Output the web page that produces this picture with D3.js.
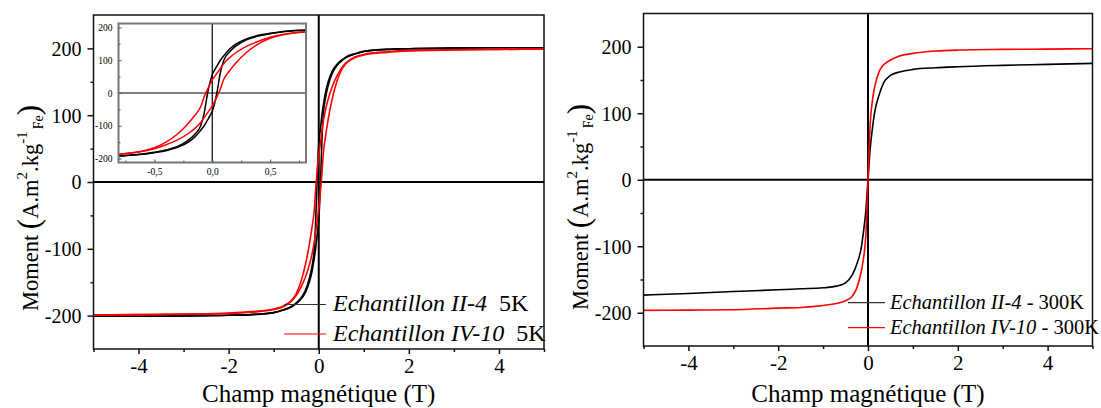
<!DOCTYPE html>
<html><head><meta charset="utf-8">
<script src="https://cdn.jsdelivr.net/npm/d3@7"></script>
<style>
html,body{margin:0;padding:0;background:#fff;}
svg text{font-family:"Liberation Serif","Times New Roman",serif;fill:#000;}
</style></head>
<body><svg id="c" width="1101" height="408"></svg>
<script>
// ---------- DATA ----------
// 5 K hysteresis loops (field in T, moment in A.m2/kg Fe)
const field5K = [-5,-4,-3,-2,-1.5,-1,-0.8,-0.6,-0.5,-0.4,-0.3,-0.2,-0.15,-0.1,-0.07,-0.04,-0.02,0,0.02,0.04,0.07,0.1,0.15,0.2,0.3,0.4,0.5,0.6,0.8,1,1.5,2,3,4,5];
const blackDesc5K = [-201,-201,-200.5,-199.5,-198.5,-195.5,-191.5,-186,-181,-174,-163,-142,-126,-100,-62,0,32,56,70,82,100,114,134,148,166,176,182,187,192,195.5,198.5,199.5,200.5,201,201];
const blackAsc5K  = [-201,-201,-200.5,-199.5,-198.5,-195.5,-192,-187,-182,-176,-166,-148,-134,-114,-100,-82,-70,-56,-32,0,62,100,126,142,163,174,181,186,191.5,195.5,198.5,199.5,200.5,201,201];
const redDesc5K   = [-199,-198.5,-197.5,-196,-194,-190,-186,-177,-167,-150,-125,-90,-68,-42,-12,12,26,40,50,60,75,90,108,122,143,158,170,178,187,191,195,197,198,198.5,199];
const redAsc5K    = [-199,-198.5,-198,-197,-195,-191,-187,-178,-170,-158,-143,-122,-108,-90,-75,-60,-50,-40,-26,-12,12,42,68,90,125,150,167,177,186,190,194,196,197.5,198.5,199];
// 300 K curves
const field300K = [-5,-4,-3,-2,-1.5,-1,-0.7,-0.5,-0.35,-0.25,-0.15,-0.1,-0.05,0,0.05,0.1,0.15,0.25,0.35,0.5,0.7,1,1.5,2,3,4,5];
const black300K = [-173.5,-171,-168,-165.5,-164,-162.5,-160,-155,-143,-127,-102,-78,-48,0,48,78,102,128,146,157,162,166,168.5,170,172,173.5,175];
const red300K   = [-196.5,-196,-195.5,-193,-192,-189,-186,-182,-175,-163,-138,-118,-85,0,85,120,140,163,173,180,186,190,193.5,195,196,196.5,197];
// ticks & labels
const yMajor = [-200,-100,0,100,200];
const yMinor = [-150,-50,50,150];
const xMajor = [-4,-2,0,2,4];
const xMinor = [-5,-3,-1,1,3,5];
const insetXMajor = [-0.5,0,0.5];
const insetXMinor = [-0.75,-0.25,0.25,0.75];
const insetYMajor = [-200,-100,0,100,200];
const insetYMinor = [-150,-50,50,150];
const legend5K = [{name:"Echantillon II-4", suffix:"5K", color:"#000"},{name:"Echantillon IV-10", suffix:"5K", color:"#e00"}];
const legend300K = [{name:"Echantillon II-4", suffix:" - 300K", color:"#000"},{name:"Echantillon IV-10", suffix:" - 300K", color:"#e00"}];
const xTitle = "Champ magnétique (T)";

// ---------- DRAW ----------
const svg = d3.select("#c");
const RED = "#f00";
function toPts(xs, ys){ return xs.map((x,i)=>[x, ys[i]]); }

function panel(opt){
  const x = d3.scaleLinear().domain([-5,5]).range([opt.x0, opt.x1]);
  const y = d3.scaleLinear().domain([-250,250]).range([opt.y1, opt.y0]);
  const g = svg.append("g");
  const cid = "clip"+opt.id;
  svg.append("clipPath").attr("id",cid).append("rect")
    .attr("x",opt.x0).attr("y",opt.y0).attr("width",opt.x1-opt.x0).attr("height",opt.y1-opt.y0);
  // zero lines
  g.append("line").attr("x1",x(-5)).attr("x2",x(5)).attr("y1",y(0)).attr("y2",y(0)).attr("stroke","#000").attr("stroke-width",2);
  g.append("line").attr("x1",x(0)).attr("x2",x(0)).attr("y1",y(-250)).attr("y2",y(250)).attr("stroke","#000").attr("stroke-width",2);
  // curves
  const line = d3.line().x(d=>x(d[0])).y(d=>y(d[1])).curve(d3.curveMonotoneX);
  const cg = g.append("g").attr("clip-path",`url(#${cid})`);
  opt.curves.forEach(c=>{
    cg.append("path").attr("d",line(c.pts)).attr("fill","none").attr("stroke",c.color).attr("stroke-width",1.6);
  });
  // frame
  g.append("rect").attr("x",opt.x0).attr("y",opt.y0).attr("width",opt.x1-opt.x0).attr("height",opt.y1-opt.y0)
    .attr("fill","none").attr("stroke","#111").attr("stroke-width",1.5);
  // axes
  const fmt = d=>String(d);
  const ax = g.append("g").attr("transform",`translate(0,${opt.y1})`)
    .call(d3.axisBottom(x).tickValues(xMajor).tickSize(5).tickPadding(4).tickFormat(fmt));
  const axm = g.append("g").attr("transform",`translate(0,${opt.y1})`)
    .call(d3.axisBottom(x).tickValues(xMinor).tickSize(3).tickFormat(""));
  const ay = g.append("g").attr("transform",`translate(${opt.x0},0)`)
    .call(d3.axisLeft(y).tickValues(yMajor).tickSize(6).tickPadding(6).tickFormat(fmt));
  const aym = g.append("g").attr("transform",`translate(${opt.x0},0)`)
    .call(d3.axisLeft(y).tickValues(yMinor).tickSize(3).tickFormat(""));
  [ax,axm,ay,aym].forEach(a=>{ a.select(".domain").remove(); a.selectAll("line").attr("stroke","#111").attr("stroke-width",1.5); });
  ax.selectAll("text").attr("font-size",21).attr("fill","#000");
  ay.selectAll("text").attr("font-size",20).attr("fill","#000").attr("dy","0.34em");
  // x title
  g.append("text").attr("x",(opt.x0+opt.x1)/2).attr("y",402).attr("text-anchor","middle").attr("font-size",25).text(xTitle);
  // y title
  const t = g.append("text").attr("transform",`translate(${opt.x0-56},${opt.yLabelC}) rotate(-90)`).attr("text-anchor","middle").attr("font-size",22.5);
  t.append("tspan").text("Moment ");
  t.append("tspan").attr("font-size",31).attr("dy",1.5).text("(");
  t.append("tspan").attr("dy",-1.5).text("A.m");
  t.append("tspan").attr("font-size",15).attr("dy",-11).text("2");
  t.append("tspan").attr("dy",11).text(".kg");
  t.append("tspan").attr("font-size",15).attr("dy",-11).text("-1");
  t.append("tspan").attr("font-size",14).attr("dy",16).attr("dx",2).text("Fe");
  t.append("tspan").attr("font-size",31).attr("dy",-3.5).text(")");
  // legend
  opt.legend.forEach((l,i)=>{
    const ly = opt.leg.y + i*opt.leg.gap;
    g.append("line").attr("x1",opt.leg.lx0).attr("x2",opt.leg.lx1).attr("y1",ly).attr("y2",ly)
      .attr("stroke", l.color==="#000" ? "#333" : RED).attr("stroke-width",1.2);
    const tx = g.append("text").attr("x",opt.leg.tx).attr("y",ly+opt.leg.dy).attr("font-size",opt.leg.fs).attr("xml:space","preserve");
    tx.append("tspan").attr("font-style","italic").text(l.name);
    tx.append("tspan").attr("dx",opt.leg.sdx).text(l.suffix);
  });
  return {x,y,g};
}

// left panel
panel({id:"L", x0:93.5, x1:544, y0:15, y1:349, yLabelC:208,
  curves:[
    {pts:toPts(field5K,blackDesc5K),color:"#000"},
    {pts:toPts(field5K,blackAsc5K),color:"#000"},
    {pts:toPts(field5K,redDesc5K),color:RED},
    {pts:toPts(field5K,redAsc5K),color:RED}],
  legend:legend5K,
  leg:{y:304.5, gap:29.5, lx0:284, lx1:326, tx:333, dy:6.5, fs:24, sdx:12}
});

// right panel
panel({id:"R", x0:643.5, x1:1092.5, y0:13.5, y1:346, yLabelC:207,
  curves:[
    {pts:toPts(field300K,black300K),color:"#000"},
    {pts:toPts(field300K,red300K),color:RED}],
  legend:legend300K,
  leg:{y:302.7, gap:25, lx0:848, lx1:885, tx:890, dy:6.5, fs:20.5, sdx:0}
});

// inset
(function(){
  const x0=118.5, x1=306, y0=23.5, y1=162.5;
  const x = d3.scaleLinear().domain([-0.81,0.81]).range([x0,x1]);
  const y = d3.scaleLinear().domain([-212,212]).range([y1,y0]);
  const g = svg.append("g");
  g.append("rect").attr("x",x0).attr("y",y0).attr("width",x1-x0).attr("height",y1-y0).attr("fill","#fff");
  svg.append("clipPath").attr("id","clipI").append("rect").attr("x",x0).attr("y",y0).attr("width",x1-x0).attr("height",y1-y0);
  g.append("line").attr("x1",x0).attr("x2",x1).attr("y1",y(0)).attr("y2",y(0)).attr("stroke","#000").attr("stroke-width",1.2);
  g.append("line").attr("x1",x(0)).attr("x2",x(0)).attr("y1",y0).attr("y2",y1).attr("stroke","#000").attr("stroke-width",1.2);
  const line = d3.line().x(d=>x(d[0])).y(d=>y(d[1])).curve(d3.curveMonotoneX);
  const cg = g.append("g").attr("clip-path","url(#clipI)");
  [[blackDesc5K,"#000"],[blackAsc5K,"#000"],[redDesc5K,RED],[redAsc5K,RED]].forEach(([v,c])=>{
    cg.append("path").attr("d",line(toPts(field5K,v))).attr("fill","none").attr("stroke",c).attr("stroke-width",1.5);
  });
  g.append("rect").attr("x",x0).attr("y",y0).attr("width",x1-x0).attr("height",y1-y0)
    .attr("fill","none").attr("stroke","#777").attr("stroke-width",2);
  const ax = g.append("g").attr("transform",`translate(0,${y1})`)
    .call(d3.axisBottom(x).tickValues(insetXMajor).tickSize(-3).tickPadding(6).tickFormat(d=>d3.format(".1f")(d).replace(".",",").replace("−","-")));
  const axm = g.append("g").attr("transform",`translate(0,${y1})`)
    .call(d3.axisBottom(x).tickValues(insetXMinor).tickSize(-2).tickFormat(""));
  const ay = g.append("g").attr("transform",`translate(${x0},0)`)
    .call(d3.axisLeft(y).tickValues(insetYMajor).tickSize(-3).tickPadding(6).tickFormat(d=>String(d)));
  const aym = g.append("g").attr("transform",`translate(${x0},0)`)
    .call(d3.axisLeft(y).tickValues(insetYMinor).tickSize(-2).tickFormat(""));
  [ax,axm,ay,aym].forEach(a=>{ a.select(".domain").remove(); a.selectAll("line").attr("stroke","#555").attr("stroke-width",1); });
  [ax,ay].forEach(a=>a.selectAll("text").attr("font-size",9.5).attr("fill","#222"));
})();
</script></body></html>
